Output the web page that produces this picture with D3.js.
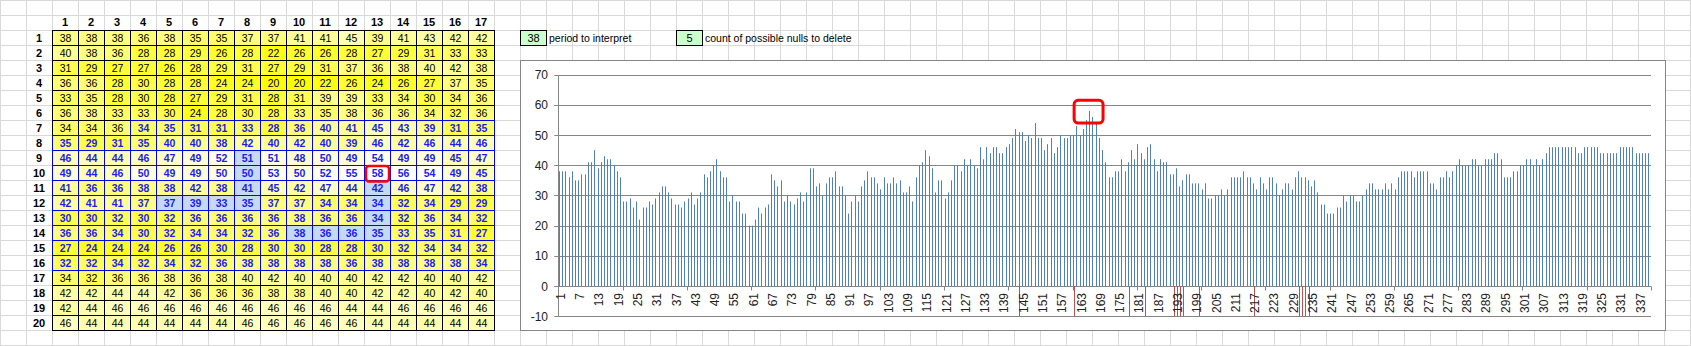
<!DOCTYPE html>
<html><head><meta charset="utf-8">
<script src="https://cdn.jsdelivr.net/npm/d3@7"></script>
<style>body{margin:0;background:#fff}svg{display:block}</style>
</head><body><svg id="c" width="1691" height="346"></svg>
<script>
// ---------- data ----------
const colLabels = d3.range(1, 18);
const rowLabels = d3.range(1, 21);
const gridValues = [
  [38,38,38,36,38,35,35,37,37,41,41,45,39,41,43,42,42],
  [40,38,36,28,28,29,26,28,22,26,26,28,27,29,31,33,33],
  [31,29,27,27,26,28,29,31,27,29,31,37,36,38,40,42,38],
  [36,36,28,30,28,28,24,24,20,20,22,26,24,26,27,37,35],
  [33,35,28,30,28,27,29,31,28,31,39,39,33,34,30,34,36],
  [36,38,33,33,30,24,28,30,28,33,35,38,36,36,34,32,36],
  [34,34,36,34,35,31,31,33,28,36,40,41,45,43,39,31,35],
  [35,29,31,35,40,40,38,42,40,42,40,39,46,42,46,44,46],
  [46,44,44,46,47,49,52,51,51,48,50,49,54,49,49,45,47],
  [49,44,46,50,49,49,50,50,53,50,52,55,58,56,54,49,45],
  [41,36,36,38,38,42,38,41,45,42,47,44,42,46,47,42,38],
  [42,41,41,37,37,39,33,35,37,37,34,34,34,32,34,29,29],
  [30,30,32,30,32,36,36,36,36,38,36,36,34,32,36,34,32],
  [36,36,34,30,32,34,34,32,36,38,36,36,35,33,35,31,27],
  [27,24,24,24,26,26,30,28,30,30,28,28,30,32,34,34,32],
  [32,32,34,32,34,32,36,38,38,38,38,36,38,38,38,38,34],
  [34,32,36,36,38,36,38,40,42,40,40,40,42,42,40,40,42],
  [42,42,44,44,42,36,36,36,38,38,40,40,42,42,40,42,40],
  [42,44,46,46,46,46,46,46,46,46,46,44,44,46,46,46,46],
  [46,44,44,44,44,44,44,46,46,46,46,46,44,44,44,44,44]
];
// highlighted (light blue) cells as [row, col]
const blueCells = [[9,8],[10,8],[11,8],[12,8],[12,7],[12,6],[12,5],[11,13],[12,13],[13,13],[14,13],[14,12],[14,11],[14,10]];
// run of cells (flat 1-based index) shown in blue bold
const blueRun = [106, 272];
const circledCell = [10, 13];
const periodValue = 38;
const periodLabel = "period to interpret";
const nullsValue = 5;
const nullsLabel = "count of possible nulls to delete";
// chart
const categories = d3.range(1, 341);
const seriesValues = gridValues.flat();
const nullMarkerCats = [144,161,178,183,192,193,194,195,200,217,231,232,233,234];
const nullMarkerValue = -10;
const yTicks = [-10,0,10,20,30,40,50,60,70];
const xTickLabels = d3.range(1, 341, 6);
const xTickMarks = d3.range(0, 341, 20);
const peakBox = {from: 161, to: 170, lo: 54, hi: 61.5};

// ---------- drawing ----------
const W = 1691, H = 346, CW = 26, RH = 15;
const svg = d3.select("#c");
svg.append("rect").attr("width", W).attr("height", H).attr("fill", "#fff");

// sheet gridlines
const g0 = svg.append("g").attr("stroke", "#d9d9d9").attr("stroke-width", 1);
d3.range(0, Math.ceil(W / CW) + 1).forEach(k => g0.append("line").attr("x1", k*CW+0.5).attr("x2", k*CW+0.5).attr("y1", 0).attr("y2", H));
d3.range(0, Math.ceil(H / RH) + 1).forEach(k => g0.append("line").attr("y1", k*RH+0.5).attr("y2", k*RH+0.5).attr("x1", 0).attr("x2", W));

// table
const tx0 = 52, ty0 = 30;
const fillScale = d3.scaleLinear().domain([20, 55]).range(["#ffff00", "#ffffff"]).clamp(true);
const tbl = svg.append("g").attr("font-family", "Liberation Sans, Arial, sans-serif");
tbl.selectAll("text.ch").data(colLabels).join("text").attr("class", "ch")
  .attr("x", d => tx0 + (d - 0.5) * CW).attr("y", ty0 - 4).attr("text-anchor", "middle")
  .attr("font-size", 11).attr("font-weight", "bold").text(d => d);
tbl.selectAll("text.rh").data(rowLabels).join("text").attr("class", "rh")
  .attr("x", tx0 - CW / 2).attr("y", d => ty0 + (d - 0.5) * RH + 4).attr("text-anchor", "middle")
  .attr("font-size", 11).attr("font-weight", "bold").text(d => d);

const cells = [];
gridValues.forEach((row, ri) => row.forEach((v, ci) => {
  const idx = ri * 17 + ci + 1;
  const isBlueRun = idx >= blueRun[0] && idx <= blueRun[1];
  const hl = blueCells.some(b => b[0] === ri + 1 && b[1] === ci + 1);
  cells.push({r: ri + 1, c: ci + 1, v, isBlueRun, hl});
}));
const order = cells.slice().sort((a, b) => a.isBlueRun - b.isBlueRun);
tbl.selectAll("rect.cell").data(order).join("rect").attr("class", "cell")
  .attr("x", d => tx0 + (d.c - 1) * CW + 0.5).attr("y", d => ty0 + (d.r - 1) * RH + 0.5)
  .attr("width", CW).attr("height", RH)
  .attr("fill", d => d.hl ? "#c5d9f1" : fillScale(d.v))
  .attr("stroke", d => d.isBlueRun ? "#0000ff" : "#000").attr("stroke-width", 1);
tbl.selectAll("text.cv").data(cells).join("text").attr("class", "cv")
  .attr("x", d => tx0 + (d.c - 0.5) * CW + 0.5).attr("y", d => ty0 + (d.r - 0.5) * RH + 4)
  .attr("text-anchor", "middle").attr("font-size", 10.5)
  .attr("font-weight", d => d.isBlueRun ? "bold" : "normal")
  .attr("fill", d => d.isBlueRun ? "#1c1cf0" : "#000").text(d => d.v);
tbl.append("rect")
  .attr("x", tx0 + (circledCell[1] - 1) * CW + 2).attr("y", ty0 + (circledCell[0] - 1) * RH + 1)
  .attr("width", CW - 3).attr("height", RH + 0.5).attr("rx", 3)
  .attr("fill", "none").attr("stroke", "#ff0000").attr("stroke-width", 2.5);

// input boxes
const inputs = [{x: 520, v: periodValue, label: periodLabel}, {x: 676, v: nullsValue, label: nullsLabel}];
inputs.forEach(d => {
  svg.append("rect").attr("x", d.x + 0.5).attr("y", 30.5).attr("width", CW).attr("height", RH)
    .attr("fill", "#ccffcc").attr("stroke", "#000");
  svg.append("text").attr("x", d.x + CW / 2 + 0.5).attr("y", 42).attr("text-anchor", "middle")
    .attr("font-family", "Liberation Sans, Arial, sans-serif").attr("font-size", 11).text(d.v);
  svg.append("text").attr("x", d.x + CW + 3).attr("y", 42)
    .attr("font-family", "Liberation Sans, Arial, sans-serif").attr("font-size", 10.5).text(d.label);
});

// chart
svg.append("rect").attr("x", 520.5).attr("y", 60.5).attr("width", 1145).attr("height", 270)
  .attr("fill", "#fff").attr("stroke", "#868686");
const pl = 558.3, pr = 1651;
const x = d3.scaleBand().domain(categories).range([pl, pr]).padding(0);
const y = d3.scaleLinear().domain([-10, 70]).range([316.2, 74.7]);
const sub = d3.scaleBand().domain(["v", "n"]).range([0, x.bandwidth()]).paddingOuter(0.75).paddingInner(0);
const ch = svg.append("g").attr("font-family", "Liberation Sans, Arial, sans-serif");
const cr = v => Math.round(v) + 0.5;
ch.selectAll("line.grid").data(yTicks).join("line").attr("class", "grid")
  .attr("x1", pl).attr("x2", pr).attr("y1", d => cr(y(d))).attr("y2", d => cr(y(d)))
  .attr("stroke", "#868686");
ch.selectAll("line.yt").data(yTicks).join("line").attr("class", "yt")
  .attr("x1", pl - 4).attr("x2", pl).attr("y1", d => cr(y(d))).attr("y2", d => cr(y(d)))
  .attr("stroke", "#868686");
ch.append("line").attr("x1", cr(pl)).attr("x2", cr(pl)).attr("y1", cr(y(70))).attr("y2", cr(y(-10))).attr("stroke", "#868686");
ch.selectAll("text.yl").data(yTicks).join("text").attr("class", "yl")
  .attr("x", 548).attr("y", d => y(d) + 4.5).attr("text-anchor", "end").attr("font-size", 12)
  .attr("fill", "#222").text(d => d);
// bars
ch.selectAll("rect.bar").data(seriesValues).join("rect").attr("class", "bar")
  .attr("x", (d, i) => Math.round(x(categories[i]) + sub("v") + sub.bandwidth() / 2 - 0.5))
  .attr("width", 1)
  .attr("y", d => y(Math.max(0, d))).attr("height", d => Math.abs(y(d) - y(0)))
  .attr("fill", "#4f81bd");
ch.selectAll("rect.nm").data(nullMarkerCats).join("rect").attr("class", "nm")
  .attr("x", d => Math.round(x(d) + sub("n") + sub.bandwidth() / 2 - 0.5)).attr("width", 1)
  .attr("y", y(0)).attr("height", y(nullMarkerValue) - y(0))
  .attr("fill", "#c0504d");
// x ticks
ch.selectAll("line.xt").data(xTickMarks).join("line").attr("class", "xt")
  .attr("x1", d => cr(pl + d * x.step())).attr("x2", d => cr(pl + d * x.step()))
  .attr("y1", cr(y(0))).attr("y2", cr(y(0)) + 4).attr("stroke", "#868686");
ch.selectAll("text.xl").data(xTickLabels).join("text").attr("class", "xl")
  .attr("transform", d => `translate(${x(d) + x.bandwidth() / 2 + 1},${y(0) + 7}) rotate(-90)`)
  .attr("text-anchor", "end").attr("dominant-baseline", "central").attr("font-size", 12)
  .attr("fill", "#222").text(d => d);
// peak highlight
ch.append("rect")
  .attr("x", x(peakBox.from) + x.bandwidth() / 2).attr("y", y(peakBox.hi))
  .attr("width", x(peakBox.to) - x(peakBox.from)).attr("height", y(peakBox.lo) - y(peakBox.hi))
  .attr("rx", 4).attr("fill", "none").attr("stroke", "#ff0000").attr("stroke-width", 3);
</script></body></html>
